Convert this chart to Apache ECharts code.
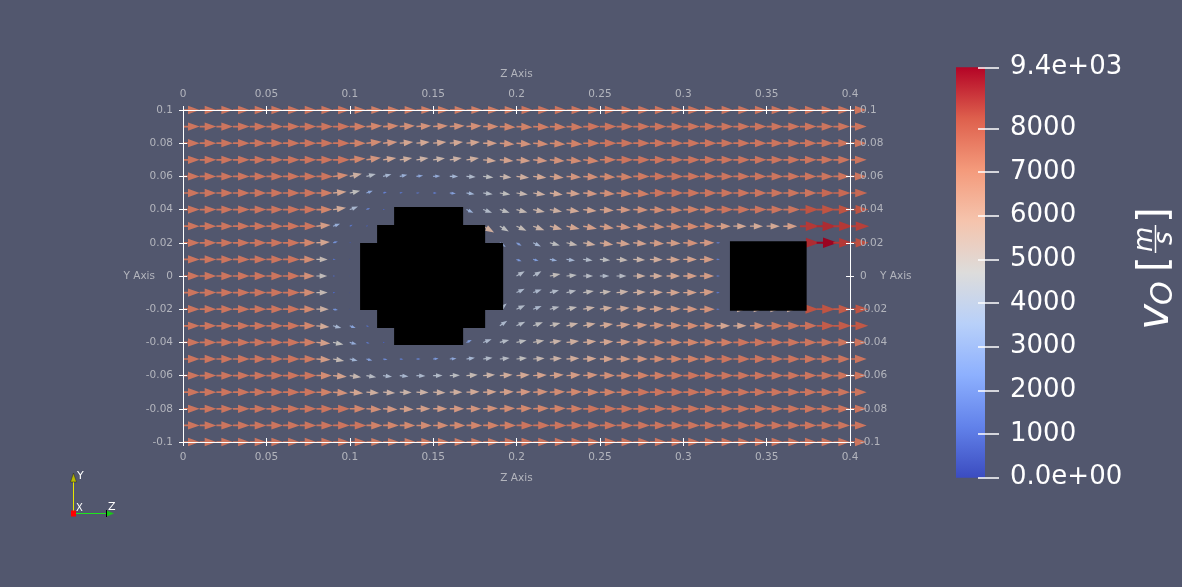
<!DOCTYPE html>
<html>
<head>
<meta charset="utf-8">
<script src="https://cdn.jsdelivr.net/npm/echarts@6/dist/echarts.min.js"></script>
<style>
html,body{margin:0;padding:0;background:#52576e;}
#chart{width:1182px;height:587px;}
</style>
</head>
<body>
<div id="chart"></div>
<script>
// ---------------- DATA ----------------
const zGrid = [0,0.01,0.02,0.03,0.04,0.05,0.06,0.07,0.08,0.09,0.1,0.11,0.12,0.13,0.14,0.15,0.16,0.17,0.18,0.19,0.2,0.21,0.22,0.23,0.24,0.25,0.26,0.27,0.28,0.29,0.3,0.31,0.32,0.33,0.34,0.35,0.36,0.37,0.38,0.39,0.4];
const yGrid = [0.1,0.09,0.08,0.07,0.06,0.05,0.04,0.03,0.02,0.01,0,-0.01,-0.02,-0.03,-0.04,-0.05,-0.06,-0.07,-0.08,-0.09,-0.1];
const zTicks = [0,0.05,0.1,0.15,0.2,0.25,0.3,0.35,0.4];
const yTicks = [-0.1,-0.08,-0.06,-0.04,-0.02,0,0.02,0.04,0.06,0.08,0.1];
const colorbarTicks = [0,1000,2000,3000,4000,5000,6000,7000,8000,9400];
const colorbarMax = 9400;

// speed |v_O| in m/s, one row per y (top to bottom), one column per z
const speedRows = [
 [7400,7400,7400,7400,7400,7400,7400,7400,7400,7400, 7200,7200,7200,7200,7200,7200,7200,7200,7200,7200, 7400,7400,7400,7400,7400,7400,7400,7400,7400,7400, 7400,7400,7400,7400,7400,7400,7400,7400,7400,7400, 7400],
 [7400,7400,7400,7400,7400,7400,7400,7400,7400,7400, 7200,7000,6900,6700,6600,6600,6600,6700,6800,7000, 7100,7200,7200,7300,7400,7400,7400,7400,7400,7400, 7400,7400,7400,7400,7400,7400,7400,7400,7400,7400, 7400],
 [7400,7400,7400,7400,7400,7400,7400,7400,7400,7400, 7100,6800,6400,6000,5900,5900,5900,6000,6200,6500, 6600,6800,6900,7100,7300,7400,7400,7400,7400,7400, 7400,7400,7400,7400,7400,7400,7400,7400,7400,7400, 7400],
 [7400,7400,7400,7400,7400,7400,7400,7400,7400,7400, 7000,6500,5900,5600,5400,5300,5400,5600,5800,6100, 6200,6400,6600,6800,7000,7200,7400,7400,7400,7400, 7400,7400,7400,7400,7400,7400,7400,7400,7400,7400, 7400],
 [7400,7400,7400,7400,7400,7400,7400,7400,7400,6800, 5500,4300,3800,3400,3000,3200,3700,4100,4600,5200, 5600,5900,6200,6500,6700,6900,7100,7300,7400,7400, 7400,7400,7400,7400,7400,7400,7400,7400,7400,7400, 7400],
 [7400,7400,7400,7400,7400,7400,7400,7400,7200,6000, 4700,3000,1700,1400,1400,1600,2700,3600,4300,4700, 5100,5500,5800,6100,6400,6700,7000,7200,7400,7400, 7400,7400,7400,7400,7400,7400,7400,7400,7700,7700, 7700],
 [7400,7400,7400,7400,7400,7400,7400,7400,7000,5800, 3900,1800,900,0,0,0,0,3400,4200,4600, 5000,5300,5500,5800,6000,6200,6400,6600,6800,7000, 7100,7200,7400,7400,7400,7400,7400,8200,8200,8200, 8200],
 [7400,7400,7400,7400,7400,7400,7400,7400,6300,3300, 1400,800,0,0,0,0,0,0,5600,4600, 4900,5300,5700,6000,6200,6300,6400,6500,6600,6800, 6900,6900,6300,5900,5800,5900,6200,8600,8800,8600, 8500],
 [7400,7400,7400,7400,7400,7400,7400,7000,6000,2200, 600,0,0,0,0,0,0,0,0,3200, 2600,3800,4600,5000,5600,6000,6100,6100,6300,6300, 6600,6400,1600,0,0,0,0,8800,9400,8600, 8300],
 [7400,7400,7400,7400,7400,7400,7400,6800,5000,1200, 300,0,0,0,0,0,0,0,0,0, 2400,2500,3300,3800,4200,4600,5000,5300,5700,6000, 6100,6300,1500,0,0,0,0,0,0,0, 0],
 [7400,7400,7400,7400,7400,7400,7400,6700,4800,1000, 200,0,0,0,0,0,0,0,0,0, 4200,4200,4800,4600,4400,4200,4400,5500,5700,6000, 6200,6300,1500,0,0,0,0,0,0,0, 0],
 [7400,7400,7400,7400,7400,7400,7400,6800,5000,1000, 200,0,0,0,0,0,0,0,0,0, 4000,4000,4200,4400,4800,5000,5300,5600,5800,6000, 6100,6300,1400,0,0,0,0,0,0,0, 0],
 [7400,7400,7400,7400,7400,7400,7400,6900,5500,2200, 300,0,0,0,0,0,0,0,0,4000, 4200,4000,4400,4800,5300,5600,5800,6000,6100,6300, 6400,6600,1400,5500,5500,5500,5500,8200,8200,8000, 8200],
 [7400,7400,7400,7400,7400,7400,7400,7000,5800,3800, 2800,1200,0,0,0,0,0,0,0,4000, 4300,4600,4900,5300,5600,5900,6100,6300,6500,6600, 6800,6800,6000,5900,6700,7300,7400,7500,8000,8000, 8100],
 [7400,7400,7400,7400,7400,7400,7400,7200,6200,4700, 3200,1500,800,0,0,0,0,2600,4000,4300, 4600,5000,5300,5600,5800,6000,6300,6500,6800,6900, 7000,7100,7200,7400,7400,7400,7400,7400,7400,7400, 7400],
 [7400,7400,7400,7400,7400,7400,7400,7300,6300,5000, 3600,2700,2000,1600,1800,2400,3000,3800,4200,4400, 4700,5100,5400,5700,5900,6100,6300,6500,6800,7000, 7100,7200,7400,7400,7400,7400,7400,7400,7400,7400, 7400],
 [7400,7400,7400,7400,7400,7400,7400,7400,6800,6100, 5100,4400,4000,3900,4000,4200,4500,5000,5300,5700, 5900,6100,6200,6300,6500,6700,6900,7100,7200,7300, 7400,7400,7400,7400,7400,7400,7400,7400,7400,7400, 7400],
 [7400,7400,7400,7400,7400,7400,7400,7400,7100,6600, 6000,5600,5400,5300,5400,5500,5600,5800,6000,6200, 6400,6600,6800,6900,7000,7100,7200,7400,7400,7400, 7400,7400,7400,7400,7400,7400,7400,7400,7400,7400, 7400],
 [7400,7400,7400,7400,7400,7400,7400,7400,7400,7400, 7000,6700,6400,6200,6200,6300,6400,6500,6600,6800, 6900,7000,7100,7200,7400,7400,7400,7400,7400,7400, 7400,7400,7400,7400,7400,7400,7400,7400,7400,7400, 7400],
 [7400,7400,7400,7400,7400,7400,7400,7400,7400,7400, 7400,7100,7000,6900,6800,6800,6900,7000,7100,7200, 7400,7400,7400,7400,7400,7400,7400,7400,7400,7400, 7400,7400,7400,7400,7400,7400,7400,7400,7400,7400, 7400],
 [7400,7400,7400,7400,7400,7400,7400,7400,7400,7400, 7400,7200,7200,7200,7200,7200,7200,7200,7200,7400, 7400,7400,7400,7400,7400,7400,7400,7400,7400,7400, 7400,7400,7400,7400,7400,7400,7400,7400,7400,7400, 7400]
];

// flow direction in degrees (0 = +Z, positive = towards +Y)
const angleRows = [
 [0,0,0,0,0,0,0,0,0,0, 0,0,0,0,0,0,0,0,0,0, 0,0,0,0,0,0,0,0,0,0, 0,0,0,0,0,0,0,0,0,0, 0],
 [0,0,0,0,0,0,0,0,0,0, 0,3,3,3,3,3,3,3,0,-2, -2,-2,-2,-2,0,0,0,0,0,0, 0,0,0,0,0,0,0,0,0,0, 0],
 [0,0,0,0,0,0,0,0,0,0, 0,5,5,5,5,5,5,5,0,-4, -4,-4,-4,-4,0,0,0,0,0,0, 0,0,0,0,0,0,0,0,0,0, 0],
 [0,0,0,0,0,0,0,0,0,0, 5,8,8,8,8,8,8,8,-5,-5, -5,-5,-5,-5,-5,0,0,0,0,0, 0,0,0,0,0,0,0,0,0,0, 0],
 [0,0,0,0,0,0,0,0,0,5, 12,14,14,12,8,4,0,-4,-6,-6, -6,-6,-6,-3,-3,-3,-3,0,0,0, 0,0,0,0,0,0,0,0,0,0, 0],
 [0,0,0,0,0,0,0,0,0,5, 12,20,15,10,5,0,-5,-8,-8,-8, -8,-8,-8,-4,-4,-4,-4,-4,0,0, 0,0,0,0,0,0,0,0,0,0, 0],
 [0,0,0,0,0,0,0,0,0,8, 20,25,20,0,0,0,0,-25,-20,-18, -15,-12,-10,-8,-6,-4,-2,-2,-2,-2, 0,0,0,0,0,0,0,0,0,0, 0],
 [0,0,0,0,0,0,0,0,5,20, 25,20,0,0,0,0,0,0,-30,-30, -25,-20,-15,-12,-10,-8,-6,-5,-4,-3, -2,0,0,0,0,0,0,0,0,0, 0],
 [0,0,0,0,0,0,0,0,3,15, 15,0,0,0,0,0,0,0,0,-35, -30,-25,-15,-12,-10,-8,-6,-5,-4,-3, -2,0,0,0,0,0,0,0,0,0, 0],
 [0,0,0,0,0,0,0,0,0,0, 0,0,0,0,0,0,0,0,0,0, -20,-15,-10,-8,-6,-5,-4,-3,-2,-2, 0,0,0,0,0,0,0,0,0,0, 0],
 [0,0,0,0,0,0,0,0,0,0, 0,0,0,0,0,0,0,0,0,0, 30,30,10,5,0,0,0,0,0,0, 0,0,0,0,0,0,0,0,0,0, 0],
 [0,0,0,0,0,0,0,0,0,0, 0,0,0,0,0,0,0,0,0,0, 25,20,15,12,8,6,5,3,2,0, 0,3,0,0,0,0,0,0,0,0, 0],
 [0,0,0,0,0,0,0,0,0,-10, 0,0,0,0,0,0,0,0,0,40, 25,20,15,12,10,8,6,4,3,2, 0,0,0,0,0,0,0,0,0,0, 0],
 [0,0,0,0,0,0,0,0,-5,-15, -20,-20,0,0,0,0,0,0,0,35, 25,20,15,12,10,8,6,4,3,2, 0,0,0,0,0,0,0,0,0,0, 0],
 [0,0,0,0,0,0,0,0,-5,-12, -15,-20,-15,0,0,0,0,25,20,15, 12,10,8,6,5,4,3,2,0,0, 0,0,0,0,0,0,0,0,0,0, 0],
 [0,0,0,0,0,0,0,0,-3,-10, -12,-15,-10,-5,0,5,5,8,8,6, 5,4,3,3,2,0,0,0,0,0, 0,0,0,0,0,0,0,0,0,0, 0],
 [0,0,0,0,0,0,0,0,0,-5, -8,-10,-8,-6,-3,0,2,4,4,4, 4,3,3,3,3,0,0,0,0,0, 0,0,0,0,0,0,0,0,0,0, 0],
 [0,0,0,0,0,0,0,0,0,-4, -4,-4,-4,-2,-2,-2,0,2,2,2, 2,2,2,2,0,0,0,0,0,0, 0,0,0,0,0,0,0,0,0,0, 0],
 [0,0,0,0,0,0,0,0,0,0, 0,-3,-3,-3,0,0,0,0,2,2, 2,2,2,0,0,0,0,0,0,0, 0,0,0,0,0,0,0,0,0,0, 0],
 [0,0,0,0,0,0,0,0,0,0, 0,0,0,0,0,0,0,0,0,0, 0,0,0,0,0,0,0,0,0,0, 0,0,0,0,0,0,0,0,0,0, 0],
 [0,0,0,0,0,0,0,0,0,0, 0,0,0,0,0,0,0,0,0,0, 0,0,0,0,0,0,0,0,0,0, 0,0,0,0,0,0,0,0,0,0, 0]
];

// solid obstacles (outline vertices in Z / Y)
const cylinderZ = [0.1266,0.1680,0.1680,0.1812,0.1812,0.1920,0.1920,0.1812,0.1812,0.1680,0.1680,0.1266,0.1266,0.1164,0.1164,0.1062,0.1062,0.1164,0.1164,0.1266];
const cylinderY = [0.0416,0.0416,0.0307,0.0307,0.0199,0.0199,-0.0205,-0.0205,-0.0313,-0.0313,-0.0416,-0.0416,-0.0313,-0.0313,-0.0205,-0.0205,0.0199,0.0199,0.0307,0.0307];
const blockZ = [0.328,0.374,0.374,0.328];
const blockY = [0.021,0.021,-0.021,-0.021];

// ---------------- BUILD ----------------
const arrowData = [];
for (let r = 0; r < yGrid.length; r++) {
  for (let c = 0; c < zGrid.length; c++) {
    arrowData.push([zGrid[c], yGrid[r], speedRows[r][c], angleRows[r][c]]);
  }
}
const obstacles = [{z: cylinderZ, y: cylinderY}, {z: blockZ, y: blockY}];

const coolWarm = [[59,76,192],[98,130,234],[141,176,254],[184,208,249],[221,220,219],[245,196,173],[244,154,123],[222,96,77],[180,4,38]];
const shade = 0.86;
const rgb = (c, k) => 'rgb(' + c.map(v => Math.round(v * k)).join(',') + ')';
const arrowColors = coolWarm.map(c => rgb(c, shade));
const barStops = coolWarm.map((c, i) => ({offset: 1 - i / (coolWarm.length - 1), color: rgb(c, 1)})).reverse();

const LEN_PER_SPEED = 0.01 / 7400; // glyph length (data units) per m/s
const FONT = "'DejaVu Sans', sans-serif";
const labelGrey = '#b3b5bd';

function arrowItem(params, api) {
  const s = api.value(2);
  if (!s) return null;
  const p = api.coord([api.value(0), api.value(1)]);
  const unit = api.size([1, 0])[0];
  const L = s * LEN_PER_SPEED * unit;
  const th = api.value(3) * Math.PI / 180;
  const ux = Math.cos(th), uy = -Math.sin(th);
  const nx = -uy, ny = ux;
  const sw = Math.max(0.55, 0.05 * L);
  const c0 = 0.3 * L, hw = 0.25 * L;
  const P = (a, b) => [p[0] + ux * a + nx * b, p[1] + uy * a + ny * b];
  return {
    type: 'polygon',
    shape: {points: [P(0, sw), P(c0, sw), P(c0, hw), P(L, 0), P(c0, -hw), P(c0, -sw), P(0, -sw)]},
    style: {fill: api.visual('color')}
  };
}

function obstacleItem(params, api) {
  const o = obstacles[params.dataIndex];
  return {
    type: 'polygon',
    shape: {points: o.z.map((z, i) => api.coord([z, o.y[i]]))},
    style: {fill: '#000000'}
  };
}

function colorbarItem(params, api) {
  const a = api.coord([api.value(0), api.value(2)]);
  const b = api.coord([api.value(1), api.value(3)]);
  return {
    type: 'rect',
    shape: {x: a[0], y: a[1], width: b[0] - a[0], height: b[1] - a[1]},
    style: {fill: {type: 'linear', x: 0, y: 0, x2: 0, y2: 1, colorStops: barStops}}
  };
}

const tickStyle = {color: '#ffffff', width: 1};
const labelStyle = {color: labelGrey, fontSize: 10.5, fontFamily: FONT};
function mainX(pos, inner) {
  return {
    type: 'value', gridIndex: 0, position: pos, offset: inner ? -4 : 0,
    min: 0, max: 0.4, interval: 0.05, z: 10,
    name: inner ? '' : 'Z Axis', nameLocation: 'middle', nameGap: pos === 'top' ? 30 : 31,
    nameMoveOverlap: false,
    nameTextStyle: labelStyle,
    axisLine: {show: !inner, onZero: false, lineStyle: {color: '#ffffff', width: 1}},
    axisTick: {show: true, inside: false, length: 4, lineStyle: tickStyle, customValues: zTicks},
    axisLabel: inner ? {show: false} : Object.assign({margin: 10, customValues: zTicks}, labelStyle),
    splitLine: {show: false}
  };
}
function mainY(pos, inner) {
  return {
    type: 'value', gridIndex: 0, position: pos, offset: inner ? -4 : 0,
    min: -0.1, max: 0.1, interval: 0.02, z: 10,
    name: inner ? '' : 'Y Axis', nameLocation: 'middle', nameRotate: 0, nameGap: pos === 'left' ? 28 : 30,
    nameMoveOverlap: false,
    nameTextStyle: Object.assign({align: pos === 'left' ? 'right' : 'left', verticalAlign: 'middle'}, labelStyle),
    axisLine: {show: !inner, onZero: false, lineStyle: {color: '#ffffff', width: 1}},
    axisTick: {show: true, inside: false, length: 4, lineStyle: tickStyle, customValues: yTicks},
    axisLabel: inner ? {show: false} : Object.assign({margin: 10, customValues: yTicks}, labelStyle),
    splitLine: {show: false}
  };
}

const chart = echarts.init(document.getElementById('chart'), null, {renderer: 'canvas'});
chart.setOption({
  backgroundColor: '#52576e',
  animation: false,
  grid: [
    {left: 183, top: 110, width: 667, height: 332, containLabel: false, outerBoundsMode: 'none'},
    {left: 956, top: 67.3, width: 43, height: 410.4, containLabel: false, outerBoundsMode: 'none'}
  ],
  xAxis: [
    mainX('bottom', false), mainX('top', false), mainX('bottom', true), mainX('top', true),
    {type: 'value', gridIndex: 1, min: 0, max: 43, show: false}
  ],
  yAxis: [
    mainY('left', false), mainY('right', false), mainY('left', true), mainY('right', true),
    {
      type: 'value', gridIndex: 1, position: 'right', offset: -21, min: 0, max: colorbarMax, z: 10,
      axisLine: {show: false, onZero: false},
      axisTick: {show: true, inside: false, length: 21, lineStyle: {color: '#ffffff', width: 1.5}, customValues: colorbarTicks},
      axisLabel: {
        color: '#ffffff', fontSize: 26, fontFamily: FONT, margin: 32, customValues: colorbarTicks,
        formatter: v => v === colorbarMax ? '9.4e+03' : (v === 0 ? '0.0e+00' : String(v))
      },
      splitLine: {show: false}
    }
  ],
  visualMap: [{
    type: 'continuous', show: false, min: 0, max: colorbarMax, dimension: 2, seriesIndex: 0,
    inRange: {color: arrowColors}
  }],
  series: [
    {type: 'custom', name: 'v_O', xAxisIndex: 0, yAxisIndex: 0, data: arrowData, renderItem: arrowItem, z: 2, silent: true},
    {type: 'custom', name: 'solid', xAxisIndex: 0, yAxisIndex: 0, data: [[0.15, 0], [0.351, 0]], renderItem: obstacleItem, z: 4, silent: true},
    {type: 'custom', name: 'colorbar', xAxisIndex: 4, yAxisIndex: 4, data: [[0, 29, colorbarMax, 0]], renderItem: colorbarItem, z: 2, silent: true,
     encode: {x: [0, 1], y: [2, 3]}}
  ],
  graphic: [
    // orientation triad
    {type: 'line', shape: {x1: 73.5, y1: 513.5, x2: 73.5, y2: 478}, style: {stroke: '#e8e800', lineWidth: 1}},
    {type: 'polygon', shape: {points: [[70.5, 482], [76.5, 482], [73.5, 473]]}, style: {fill: '#b8b800', stroke: '#222', lineWidth: 0.5}},
    {type: 'text', x: 77, y: 471, style: {text: 'Y', fill: '#ffffff', font: "11px 'DejaVu Sans'"}},
    {type: 'line', shape: {x1: 73.5, y1: 513.5, x2: 111, y2: 513.5}, style: {stroke: '#1ee61e', lineWidth: 1}},
    {type: 'polygon', shape: {points: [[106.5, 510.5], [106.5, 516.5], [114, 513.5]]}, style: {fill: '#18c818'}},
    {type: 'line', shape: {x1: 106.5, y1: 510, x2: 106.5, y2: 517}, style: {stroke: '#000000', lineWidth: 1}},
    {type: 'text', x: 108, y: 502, style: {text: 'Z', fill: '#ffffff', font: "11px 'DejaVu Sans'"}},
    {type: 'rect', shape: {x: 71, y: 510.5, width: 5, height: 6}, style: {fill: '#ff0000'}},
    {type: 'text', x: 76, y: 503, style: {text: 'X', fill: '#ffffff', font: "10px 'DejaVu Sans'"}},
    // colorbar title  v_O [m/s]
    {
      type: 'group', x: 1170, y: 330, rotation: Math.PI / 2,
      children: [
        {type: 'text', x: 0, y: -13, style: {text: 'v', fill: '#fff', font: "italic 44px 'DejaVu Sans'", verticalAlign: 'middle'}},
        {type: 'text', x: 25, y: -6, style: {text: 'O', fill: '#fff', font: "italic 30px 'DejaVu Sans'", verticalAlign: 'middle'}},
        {type: 'text', x: 58, y: -14, style: {text: '[', fill: '#fff', font: "40px 'DejaVu Sans'", verticalAlign: 'middle'}},
        {type: 'text', x: 78, y: -25, style: {text: 'm', fill: '#fff', font: "italic 26px 'DejaVu Sans'", verticalAlign: 'middle'}},
        {type: 'line', shape: {x1: 77, y1: -14.5, x2: 105, y2: -14.5}, style: {stroke: '#fff', lineWidth: 1.5}},
        {type: 'text', x: 85, y: -5, style: {text: 's', fill: '#fff', font: "italic 26px 'DejaVu Sans'", verticalAlign: 'middle'}},
        {type: 'text', x: 107, y: -14, style: {text: ']', fill: '#fff', font: "40px 'DejaVu Sans'", verticalAlign: 'middle'}}
      ]
    }
  ]
});
</script>
</body>
</html>
